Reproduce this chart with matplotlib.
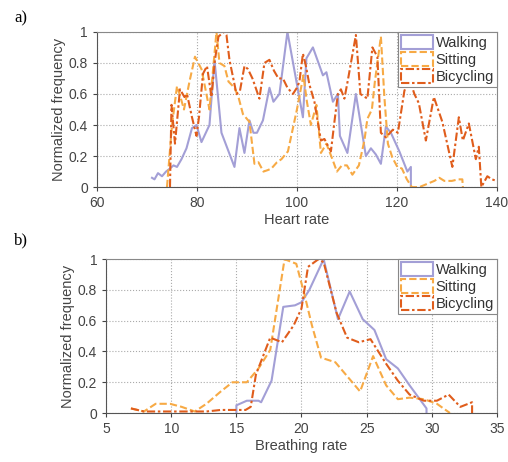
import matplotlib.pyplot as plt
from matplotlib.patches import Patch

plt.rcParams['font.family'] = ['Liberation Sans', 'DejaVu Sans']

# colours / styles
C_WALK = '#a39fd6'
C_SIT = '#f7aa45'
C_BIKE = '#e05d1c'
DASH_SIT = (0, (3.5, 1.5))
DASH_BIKE = (0, (4, 1.3, 1.2, 1.3))

# ---- a) heart rate ----
hr_walk = [71, 71.5, 72.2, 73, 73.8, 74.6, 75.3, 76, 76.9, 77.9, 79, 79.9, 80.9, 82.5, 83.5, 84.9,
           87.5, 88.5, 89.5, 90.5, 91.3, 92, 93.2, 94.5, 95.3, 96.5, 98.1, 101.2, 101.9, 103.2,
           105.2, 105.9, 107.2, 108.2, 108.6, 110.1, 111.8, 113.8, 114.8, 115.8, 116.8, 117.8,
           118.8, 120.5, 122.1, 122.8, 122.8]
v_walk = [0.06, 0.05, 0.09, 0.07, 0.1, 0.12, 0.14, 0.13, 0.18, 0.25, 0.38, 0.4, 0.29, 0.4, 0.82, 0.35,
          0.13, 0.38, 0.22, 0.43, 0.35, 0.35, 0.43, 0.64, 0.55, 0.6, 1.0, 0.45, 0.83, 0.9,
          0.72, 0.74, 0.55, 0.6, 0.33, 0.22, 0.6, 0.2, 0.25, 0.21, 0.15, 0.39,
          0.35, 0.23, 0.1, 0.13, 0.0]

hr_sit = [74, 75, 76, 76.7, 77.4, 78.5, 79.6, 80.9, 82.5, 83.9, 84.5, 85.5, 86.3, 87.5, 88.3, 89.2,
          90.5, 91.5, 92.3, 93.3, 94.2, 94.9, 96.0, 96.9, 98.2, 99.2, 100.0, 101.3, 102.0, 102.8,
          103.9, 104.8, 105.9, 107.1, 108.0, 109.0, 110.0, 111.1, 112.4, 113.5, 114.1, 115.0,
          115.6, 116.8, 117.5, 118.2, 119.1, 120.1, 121.0, 122.0, 123.0, 124.5, 126, 127.5,
          128.5, 129.5, 131, 132.3, 133.1, 133.2]
v_sit = [0.0, 0.4, 0.65, 0.58, 0.5, 0.68, 0.84, 0.76, 0.5, 1.0, 0.8, 0.78, 0.68, 0.64, 0.58, 0.47,
         0.42, 0.15, 0.16, 0.1, 0.11, 0.12, 0.16, 0.18, 0.23, 0.38, 0.5, 0.72, 0.55, 0.4,
         0.53, 0.22, 0.28, 0.18, 0.1, 0.14, 0.14, 0.08, 0.14, 0.3, 0.44, 0.5,
         0.68, 0.97, 0.58, 0.28, 0.19, 0.13, 0.12, 0.05, 0.0, 0.0, 0.02, 0.04,
         0.06, 0.04, 0.04, 0.05, 0.05, 0.0]

hr_bike = [74.6, 74.9, 75.6, 76.6, 77.5, 78.0, 79.0, 79.9, 80.4, 81.2, 82.0, 82.9, 83.6, 84.3, 85.4,
           85.9, 86.5, 87.9, 88.6, 89.5, 90.2, 91.1, 92.5, 93.5, 94.5, 95.4, 96.3, 97.2, 98.1, 99.2,
           100.0, 100.5, 101.2, 101.8, 102.5, 103.5, 104.8, 105.5, 106.8, 107.5, 108.2, 108.8, 109.5,
           110.2, 111.8, 112.7, 114.1, 115.1, 116.1, 116.8, 117.8, 119.2, 120.2, 121.5, 122.5, 123.5,
           124.4, 125.8, 127.4, 129.1, 131.1, 132.4, 133.2, 134.4, 135.8, 136.4, 136.9, 138.1, 139, 140]
v_bike = [0.0, 0.53, 0.28, 0.63, 0.58, 0.6, 0.45, 0.33, 0.45, 0.73, 0.78, 0.58, 0.82, 0.97, 1.0,
          0.98, 0.82, 0.6, 0.62, 0.78, 0.76, 0.7, 0.57, 0.8, 0.82, 0.75, 0.7, 0.7, 0.64, 0.6,
          0.64, 0.68, 0.86, 0.78, 0.66, 0.55, 0.3, 0.31, 0.23, 0.42, 0.6, 0.63, 0.57,
          0.69, 0.98, 0.6, 0.57, 0.9, 0.84, 0.35, 0.32, 0.37, 0.35, 0.62, 0.7, 0.6,
          0.54, 0.3, 0.58, 0.42, 0.13, 0.45, 0.3, 0.41, 0.18, 0.26, 0.0, 0.07, 0.05, 0.04]

# ---- b) breathing rate ----
br_walk = [15.0, 15.0, 15.8, 16.7, 16.9, 17.7, 18.6, 19.5, 20.0, 20.6, 21.7, 22.8, 23.7, 24.7,
           25.6, 26.5, 27.4, 28.3, 29.6, 29.6]
b_walk = [0.0, 0.05, 0.08, 0.08, 0.07, 0.21, 0.69, 0.7, 0.72, 0.8, 1.0, 0.61, 0.79, 0.61,
          0.54, 0.35, 0.29, 0.18, 0.03, 0.0]

br_sit = [6.9, 7.9, 8.8, 9.9, 10.8, 11.8, 12.7, 13.8, 14.7, 15.8, 16.7, 17.6, 18.7, 19.6, 20.2,
          20.8, 21.5, 22.6, 23.7, 24.5, 25.5, 26.5, 27.4, 28.3, 29.4, 30.4, 31.4]
b_sit = [0.03, 0.01, 0.06, 0.06, 0.04, 0.01, 0.06, 0.14, 0.2, 0.2, 0.29, 0.41, 1.0, 0.97, 0.78,
         0.57, 0.36, 0.33, 0.22, 0.14, 0.37, 0.18, 0.09, 0.1, 0.09, 0.06, 0.0]

br_bike = [6.9, 7.9, 8.8, 9.9, 10.8, 11.8, 12.7, 13.8, 14.7, 15.7, 16.1, 16.5, 17.6, 18.5, 19.4,
           20.0, 20.5, 21.3, 21.7, 22.7, 23.5, 24.4, 25.3, 26.5, 27.4, 28.3, 29.4, 30.4, 31.3,
           32.2, 33.1, 33.1]
b_bike = [0.03, 0.01, 0.01, 0.01, 0.01, 0.01, 0.01, 0.02, 0.02, 0.02, 0.04, 0.25, 0.49, 0.46, 0.57,
          0.68, 0.95, 1.0, 0.98, 0.65, 0.49, 0.46, 0.48, 0.32, 0.21, 0.12, 0.08, 0.08, 0.12,
          0.04, 0.07, 0.0]

labels = ['Walking', 'Sitting', 'Bicycling']


def style_ax(ax, xlim, xticks, xlabel):
    ax.set_xlim(*xlim)
    ax.set_ylim(0, 1)
    ax.set_xticks(xticks)
    ax.set_yticks([0, 0.2, 0.4, 0.6, 0.8, 1])
    ax.set_yticklabels(['0', '0.2', '0.4', '0.6', '0.8', '1'])
    ax.grid(True, color='#aaaaaa', linestyle=':', linewidth=0.8)
    for s in ax.spines.values():
        s.set_color('#888888')
        s.set_linewidth(0.8)
    ax.spines['left'].set_color('#555555')
    ax.spines['bottom'].set_color('#555555')
    ax.tick_params(labelsize=10, colors='#444444', length=3, width=0.8)
    ax.set_xlabel(xlabel, fontsize=10.5, color='#444444', labelpad=2)
    ax.set_ylabel('Normalized frequency', fontsize=10.5, color='#444444', labelpad=2)
    handles = [Patch(facecolor='white', edgecolor=C_WALK, linewidth=1.5, linestyle='-'),
               Patch(facecolor='white', edgecolor=C_SIT, linewidth=1.5, linestyle=DASH_SIT),
               Patch(facecolor='white', edgecolor=C_BIKE, linewidth=1.5, linestyle=DASH_BIKE)]
    leg = ax.legend(handles, labels, loc='upper right', fontsize=10.5, frameon=True,
                    fancybox=False, framealpha=1, edgecolor='#888888',
                    handlelength=2.2, handleheight=1.1, handletextpad=0.2,
                    labelspacing=0.15, borderpad=0.2, borderaxespad=0.0)
    leg.get_frame().set_linewidth(0.8)
    for t in leg.get_texts():
        t.set_color('#333333')


fig = plt.figure(figsize=(5.08, 4.62), dpi=100)

ax1 = fig.add_axes([0.191, 0.595, 0.787, 0.336])
ax1.plot(hr_walk, v_walk, color=C_WALK, lw=1.5, ls='-')
ax1.plot(hr_sit, v_sit, color=C_SIT, lw=1.5, ls=DASH_SIT)
ax1.plot(hr_bike, v_bike, color=C_BIKE, lw=1.5, ls=DASH_BIKE)
style_ax(ax1, (60, 140), [60, 80, 100, 120, 140], 'Heart rate')

ax2 = fig.add_axes([0.209, 0.106, 0.769, 0.333])
ax2.plot(br_walk, b_walk, color=C_WALK, lw=1.5, ls='-')
ax2.plot(br_sit, b_sit, color=C_SIT, lw=1.5, ls=DASH_SIT)
ax2.plot(br_bike, b_bike, color=C_BIKE, lw=1.5, ls=DASH_BIKE)
style_ax(ax2, (5, 35), [5, 10, 15, 20, 25, 30, 35], 'Breathing rate')

fig.text(0.028, 0.952, 'a)', fontsize=12, family=['Liberation Serif', 'DejaVu Serif'])
fig.text(0.028, 0.472, 'b)', fontsize=12, family=['Liberation Serif', 'DejaVu Serif'])

fig.savefig('out.png', dpi=100, facecolor='white')
